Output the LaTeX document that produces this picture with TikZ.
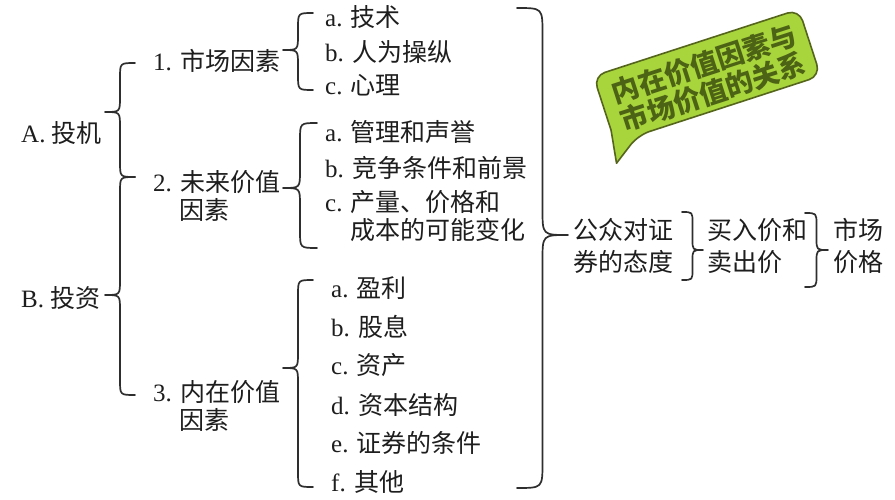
\documentclass[tikz,border=0pt]{standalone}
\usepackage{fontspec}
\setmainfont{Liberation Serif}
\newfontfamily\cjk{Noto Sans CJK SC}
\definecolor{ink}{HTML}{1E1E1E}
\definecolor{bracec}{HTML}{2E2E2E}
\definecolor{limefill}{HTML}{A8D43C}
\definecolor{oliveline}{HTML}{55661C}
\definecolor{olivetext}{HTML}{4C6214}
% #1 hook x, #2 tip x, #3 top y, #4 tip y, #5 bottom y
\newcommand\brc[5]{%
  \pgfmathsetmacro\bxm{(#1+#2)/2}%
  \pgfmathsetmacro\bxr{abs(#1-#2)/2}%
  \draw[bracepath] (#1,#3) .. controls (\bxm,#3) .. (\bxm,{#3+\bxr})
    -- (\bxm,{#4-\bxr}) .. controls (\bxm,#4) .. (#2,#4)
    .. controls (\bxm,#4) .. (\bxm,{#4+\bxr})
    -- (\bxm,{#5-\bxr}) .. controls (\bxm,#5) .. (#1,#5);}
\begin{document}
\begin{tikzpicture}[x=1pt,y=-1pt,
  txt/.style={anchor=west, inner sep=0pt, text=ink, font=\fontsize{25}{30}\selectfont},
  bracepath/.style={draw=bracec, line width=1.7pt, line cap=round, line join=round},
  callout/.style={fill=limefill, draw=oliveline, line width=1.6pt, line join=round},
  callouttext/.style={text=olivetext, inner sep=0pt, transform shape,
    font=\cjk\bfseries\fontsize{27.5}{30}\selectfont}]
\useasboundingbox (0,0) rectangle (895,500);
\fill[white] (0,0) rectangle (895,500);

% level 0
\node[txt] (nA) at (21,133) {A. {\cjk 投机}};
\node[txt] (nB) at (21,298) {B. {\cjk 投资}};
% level 1
\node[txt] (n1) at (153,61) {1. {\cjk 市场因素}};
\node[txt] (n2) at (153,182) {2. {\cjk 未来价值}};
\node[txt] (n2b) at (179,210) {{\cjk 因素}};
\node[txt] (n3) at (153,392) {3. {\cjk 内在价值}};
\node[txt] (n3b) at (179,420) {{\cjk 因素}};
% group 1
\node[txt] (g1a) at (325,17) {a. {\cjk 技术}};
\node[txt] (g1b) at (325,52) {b. {\cjk 人为操纵}};
\node[txt] (g1c) at (325,85) {c. {\cjk 心理}};
% group 2
\node[txt] (g2a) at (325,132) {a. {\cjk 管理和声誉}};
\node[txt] (g2b) at (325,168) {b. {\cjk 竞争条件和前景}};
\node[txt] (g2c) at (325,202) {c. {\cjk 产量、价格和}};
\node[txt] (g2d) at (350,230) {{\cjk 成本的可能变化}};
% group 3
\node[txt] (g3a) at (331,288) {a. {\cjk 盈利}};
\node[txt] (g3b) at (331,327) {b. {\cjk 股息}};
\node[txt] (g3c) at (331,365) {c. {\cjk 资产}};
\node[txt] (g3d) at (331,405) {d. {\cjk 资本结构}};
\node[txt] (g3e) at (331,443) {e. {\cjk 证券的条件}};
\node[txt] (g3f) at (331,482) {f. {\cjk 其他}};
% right side
\node[txt] (p1) at (573,230) {{\cjk 公众对证}};
\node[txt] (p2) at (573,262) {{\cjk 券的态度}};
\node[txt] (q1) at (707,230) {{\cjk 买入价和}};
\node[txt] (q2) at (707,262) {{\cjk 卖出价}};
\node[txt] (r1) at (833,230) {{\cjk 市场}};
\node[txt] (r2) at (833,262) {{\cjk 价格}};

% braces
\brc{135}{105}{63}{112}{177}
\brc{135}{105}{177}{295}{395}
\brc{313}{283}{13}{50}{90}
\brc{317}{283}{123}{188}{248}
\brc{313}{283}{280}{368}{487}
\brc{517}{568}{8}{235}{488}
\brc{682}{703}{212}{250}{280}
\brc{805}{828}{213}{250}{287}

% callout
\begin{scope}[shift={(707,76)}, rotate=18]
  \draw[callout, rounded corners=12pt] (-108,22) -- (-108,-35) -- (108,-35) -- (108,35) -- (-84,35) [sharp corners] -- (-113,55) -- cycle;
  \node[callouttext] (call1) at (1,-12) {内在价值因素与};
  \node[callouttext] (call2) at (1,17) {市场价值的关系};
\end{scope}
\end{tikzpicture}
\end{document}
